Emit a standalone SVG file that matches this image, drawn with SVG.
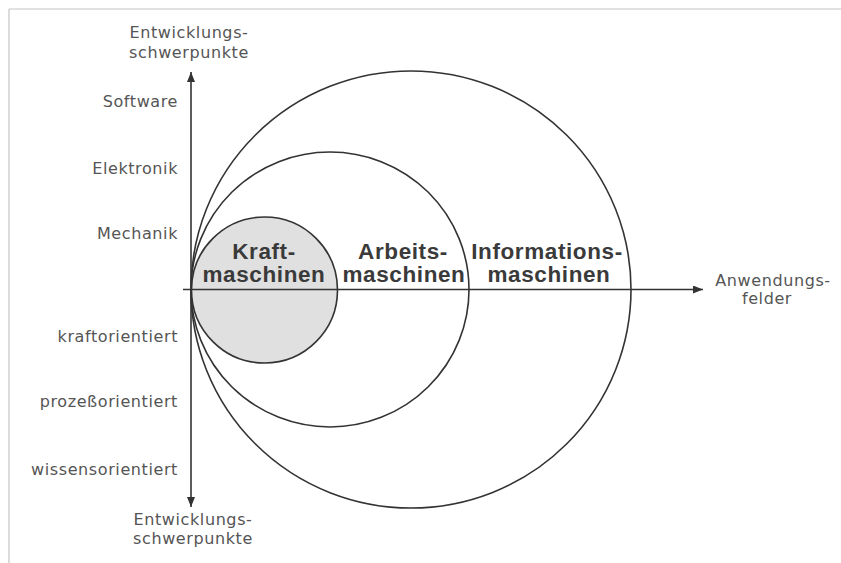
<svg xmlns="http://www.w3.org/2000/svg" width="841" height="563" viewBox="0 0 841 563">
<defs>
<style>
.lbl{font-family:"DejaVu Sans","Liberation Sans",sans-serif;font-size:16px;letter-spacing:0.6px;fill:#555;}
.r{text-anchor:end;}
.c{text-anchor:middle;}
.big{font-family:"Liberation Sans",Arial,sans-serif;font-weight:bold;font-size:22.5px;letter-spacing:0.6px;fill:#3a3a3a;text-anchor:middle;}
.circ{fill:none;stroke:#333;stroke-width:1.6;}
.axis{stroke:#333;stroke-width:1.6;fill:none;}
</style>
<marker id="arr" viewBox="0 0 10 8" refX="10" refY="4" markerWidth="10" markerHeight="8" markerUnits="userSpaceOnUse" orient="auto">
<path d="M0,0 L10,4 L0,8 Z" fill="#333"/>
</marker>
</defs>
<rect width="841" height="563" fill="#fff"/>
<g id="frame" stroke="#c4c4c4" stroke-width="1.2">
<line x1="9" y1="9" x2="841" y2="9"/>
<line x1="9" y1="9" x2="9" y2="563"/>
</g>
<g id="informationsmaschinen">
<ellipse class="circ" cx="411" cy="289.5" rx="220" ry="218.5"/>
<text class="big" x="547" y="259">Informations-</text>
<text class="big" x="549" y="282">maschinen</text>
</g>
<g id="arbeitsmaschinen">
<ellipse class="circ" cx="330" cy="289.5" rx="139" ry="137.5"/>
<text class="big" x="403" y="259">Arbeits-</text>
<text class="big" x="404" y="282">maschinen</text>
</g>
<g id="kraftmaschinen">
<circle cx="264.5" cy="290" r="73" fill="#e0e0e0" stroke="#333" stroke-width="1.6"/>
<text class="big" x="264" y="259">Kraft-</text>
<text class="big" x="264" y="282">maschinen</text>
</g>
<g id="connectors">
<line class="axis" x1="183" y1="289.5" x2="703" y2="289.5" marker-end="url(#arr)"/>
<line class="axis" x1="191" y1="290" x2="191" y2="72" marker-end="url(#arr)"/>
<line class="axis" x1="191" y1="290" x2="191" y2="507" marker-end="url(#arr)"/>
</g>
<g id="labels">
<text class="lbl c" x="189" y="38">Entwicklungs-</text>
<text class="lbl c" x="189" y="58">schwerpunkte</text>
<text class="lbl r" x="178" y="107">Software</text>
<text class="lbl r" x="178" y="174">Elektronik</text>
<text class="lbl r" x="178" y="239">Mechanik</text>
<text class="lbl r" x="178" y="342">kraftorientiert</text>
<text class="lbl r" x="178" y="407">prozeßorientiert</text>
<text class="lbl r" x="178" y="475">wissensorientiert</text>
<text class="lbl c" x="193" y="525">Entwicklungs-</text>
<text class="lbl c" x="193" y="544">schwerpunkte</text>
<text class="lbl c" x="773" y="286">Anwendungs-</text>
<text class="lbl c" x="767" y="304">felder</text>
</g>
</svg>
